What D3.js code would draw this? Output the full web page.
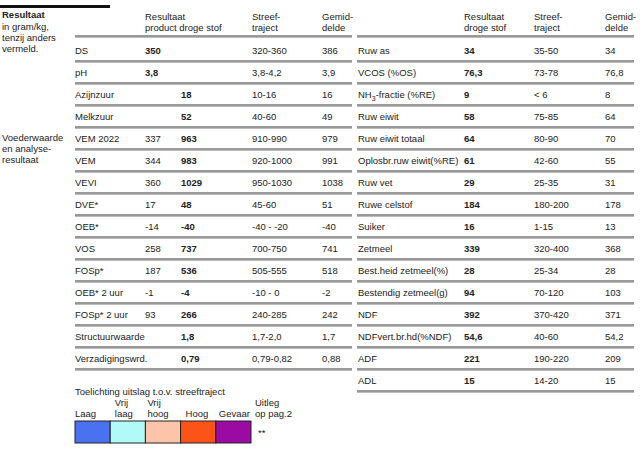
<!DOCTYPE html><html><head><meta charset="utf-8"><script src="https://cdn.jsdelivr.net/npm/d3@7"></script>
<style>body{margin:0;background:#fff}text{font-family:"Liberation Sans",Arial,sans-serif;font-size:9.5px;fill:#222}</style></head><body>
<script>
const leftLabels=["DS","pH","Azijnzuur","Melkzuur","VEM 2022","VEM","VEVI","DVE*","OEB*","VOS","FOSp*","OEB* 2 uur","FOSp* 2 uur","Structuurwaarde","Verzadigingswrd."];
const leftProduct=["350","3,8","","","337","344","360","17","-14","258","187","-1","93","",""];
const leftDS=["","","18","52","963","983","1029","48","-40","737","536","-4","266","1,8","0,79"];
const leftRange=["320-360","3,8-4,2","10-16","40-60","910-990","920-1000","950-1030","45-60","-40 - -20","700-750","505-555","-10 - 0","240-285","1,7-2,0","0,79-0,82"];
const leftAvg=["386","3,9","16","49","979","991","1038","51","-40","741","518","-2","242","1,7","0,88"];
const rightLabels=["Ruw as","VCOS (%OS)","NH3-fractie (%RE)","Ruw eiwit","Ruw eiwit totaal","Oplosbr.ruw eiwit(%RE)","Ruw vet","Ruwe celstof","Suiker","Zetmeel","Best.heid zetmeel(%)","Bestendig zetmeel(g)","NDF","NDFvert.br.hd(%NDF)","ADF","ADL"];
const rightDS=["34","76,3","9","58","64","61","29","184","16","339","28","94","392","54,6","221","15"];
const rightRange=["35-50","73-78","< 6","75-85","80-90","42-60","25-35","180-200","1-15","320-400","25-34","70-120","370-420","40-60","190-220","14-20"];
const rightAvg=["34","76,8","8","64","70","55","31","178","13","368","28","103","371","54,2","209","15"];
const legendLabels=[["","Laag"],["Vrij","laag"],["Vrij","hoog"],["","Hoog"],["","Gevaar"]];
const legendColors=["#4a72f0","#b2fafa","#fcc4a8","#fc5418","#9c0aa4"];

const svg=d3.select("body").append("svg").attr("width",640).attr("height",452);
const y=d3.scaleLinear().domain([0,1]).range([50,72]);
function t(x,yy,s,bold,anchor){return svg.append("text").attr("x",x).attr("y",yy).text(s).attr("font-weight",bold?"bold":null).attr("text-anchor",anchor||"start");}
svg.append("rect").attr("x",0).attr("y",5).attr("width",110).attr("height",3).attr("fill","#111");
t(2,18,"Resultaat",true);t(2,30,"in gram/kg,");t(2,41,"tenzij anders");t(2,52,"vermeld.");
t(2,141,"Voederwaarde");t(2,152,"en analyse-");t(2,163,"resultaat");
t(145,20,"Resultaat");t(145,31,"product droge stof");t(252,20,"Streef-");t(252,31,"traject");t(322,20,"Gemid-");t(322,31,"delde");
t(464,20,"Resultaat");t(464,31,"droge stof");t(534,20,"Streef-");t(534,31,"traject");t(605,20,"Gemid-");t(605,31,"delde");
function hline(x1,x2,yy){svg.append("line").attr("x1",x1).attr("x2",x2).attr("y1",yy).attr("y2",yy).attr("stroke","#333").attr("stroke-width",1);
 svg.append("line").attr("x1",x1).attr("x2",x2).attr("y1",yy+1.5).attr("y2",yy+1.5).attr("stroke","#bbb").attr("stroke-width",1);}
hline(75,352,36);hline(357,634,36);
leftLabels.forEach((l,i)=>{const yy=y(i)+3.5;
 t(75,yy,l);t(145,yy,leftProduct[i],leftDS[i]==="");t(181,yy,leftDS[i],true);t(252,yy,leftRange[i]);t(322,yy,leftAvg[i]);hline(75,352,y(i)+11);});
rightLabels.forEach((l,i)=>{const yy=y(i)+3.5;
 if(l.startsWith("NH3")){const tx=t(358,yy,"NH");tx.append("tspan").attr("dy",3).attr("font-size","7px").text("3");tx.append("tspan").attr("dy",-3).text("-fractie (%RE)");}
 else t(358,yy,l);
 t(464,yy,rightDS[i],true);t(534,yy,rightRange[i]);t(605,yy,rightAvg[i]);hline(357,634,y(i)+11);});
t(75,395,"Toelichting uitslag t.o.v. streeftraject");
const bx=d3.scaleBand().domain(d3.range(5)).range([75,251]);
const lOff=[0,38/3-10+2,2,5,3];
legendLabels.forEach((l,i)=>{t(bx(i)+lOff[i],406,l[0]);t(bx(i)+lOff[i],417,l[1]);
 svg.append("rect").attr("x",bx(i)).attr("y",421).attr("width",bx.bandwidth()).attr("height",22).attr("fill",legendColors[i]).attr("stroke","#222").attr("stroke-width",1);});
t(255,406,"Uitleg");t(255,417,"op pag.2");t(258,436,"**");
</script></body></html>
